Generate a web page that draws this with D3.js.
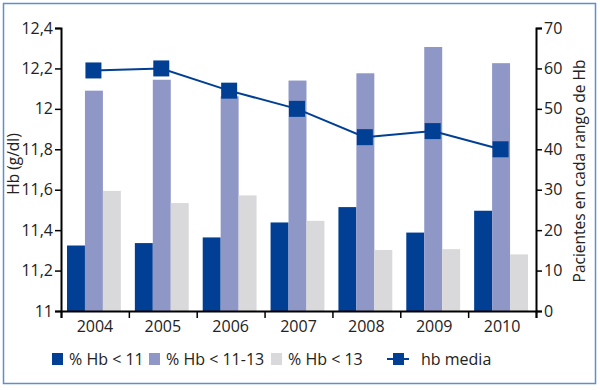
<!DOCTYPE html>
<html>
<head>
<meta charset="utf-8">
<script src="https://cdn.jsdelivr.net/npm/d3@7"></script>
<style>
  body { margin: 0; background: #fff; }
  text { font-family: "Open Sans", "Noto Sans", sans-serif; fill: #222; }
</style>
</head>
<body>
<div id="container"></div>
<script>
const width = 600;
const height = 390;

// data
const years = ['2004', '2005', '2006', '2007', '2008', '2009', '2010'];
const seriesNames = ['% Hb < 11', '% Hb < 11-13', '% Hb < 13'];
const hbLow = [16.2, 16.8, 18.2, 21.9, 25.7, 19.4, 24.8];
const hbMid = [54.5, 57.2, 53.1, 57.0, 58.8, 65.3, 61.3];
const hbHigh = [29.7, 26.7, 28.6, 22.3, 15.1, 15.3, 14.0];
const hbMedia = [12.19, 12.2, 12.09, 12.0, 11.86, 11.89, 11.8];
const leftTicks = [11, 11.2, 11.4, 11.6, 11.8, 12, 12.2, 12.4];
const rightTicks = [0, 10, 20, 30, 40, 50, 60, 70];

const colors = ['#003f93', '#8f97c7', '#d9d9db'];
const lineColor = '#003f93';

const margin = { top: 28, right: 64, bottom: 79, left: 61 };
const plotW = width - margin.left - margin.right;
const plotH = height - margin.top - margin.bottom;

const svg = d3.select('#container').append('svg')
    .attr('width', width)
    .attr('height', height);

// outer frame
svg.append('rect')
    .attr('x', 3.5).attr('y', 3.5)
    .attr('width', 592).attr('height', 380)
    .attr('fill', 'none')
    .attr('stroke', '#5d8fcf')
    .attr('stroke-width', 1.5);

const g = svg.append('g').attr('transform', `translate(${margin.left},${margin.top})`);

const x = d3.scaleBand().domain(years).range([0, plotW]).padding(0);
const x1 = d3.scaleBand().domain(seriesNames).range([6, x.bandwidth() - 8]);
const yLeft = d3.scaleLinear().domain([11, 12.4]).range([plotH, 0]);
const yRight = d3.scaleLinear().domain([0, 70]).range([plotH, 0]);

const locale = d3.formatLocale({ decimal: ',', thousands: '.', grouping: [3], currency: ['', '€'] });
const fmt = locale.format('~f');

const rows = years.map((y, i) => ({ year: y, vals: [hbLow[i], hbMid[i], hbHigh[i]] }));

// bars
const groups = g.selectAll('.grp')
    .data(rows)
    .join('g')
    .attr('class', 'grp')
    .attr('transform', d => `translate(${x(d.year)},0)`);

groups.selectAll('rect')
    .data(d => d.vals.map((v, k) => ({ name: seriesNames[k], v, k })))
    .join('rect')
    .attr('x', d => x1(d.name))
    .attr('width', x1.bandwidth())
    .attr('y', d => yRight(d.v))
    .attr('height', d => plotH - yRight(d.v))
    .attr('fill', d => colors[d.k]);

// line + markers
const cx = i => x(years[i]) + x.bandwidth() / 2 - 1.5;
const line = d3.line()
    .x((d, i) => cx(i))
    .y(d => yLeft(d));

g.append('path')
    .datum(hbMedia)
    .attr('d', line)
    .attr('fill', 'none')
    .attr('stroke', lineColor)
    .attr('stroke-width', 2);

g.selectAll('.mk')
    .data(hbMedia)
    .join('rect')
    .attr('class', 'mk')
    .attr('x', (d, i) => cx(i) - 8)
    .attr('y', d => yLeft(d) - 8)
    .attr('width', 16)
    .attr('height', 16)
    .attr('fill', lineColor);

// axes
const axisLeft = g.append('g')
    .call(d3.axisLeft(yLeft).tickValues(leftTicks).tickSize(6).tickPadding(2).tickFormat(fmt));
const axisRight = g.append('g')
    .attr('transform', `translate(${plotW},0)`)
    .call(d3.axisRight(yRight).tickValues(rightTicks).tickSize(6).tickPadding(2));

const bx = d3.scaleLinear().domain([0, years.length]).range([0, plotW]);
const axisBottomTicks = g.append('g')
    .attr('transform', `translate(0,${plotH})`)
    .call(d3.axisBottom(bx).ticks(years.length).tickSize(7).tickFormat(''));
const axisBottomLabels = g.append('g')
    .attr('transform', `translate(0,${plotH})`)
    .call(d3.axisBottom(x).tickSize(0).tickPadding(10));
axisBottomLabels.select('.domain').remove();

[axisLeft, axisRight, axisBottomTicks].forEach(a => {
    a.select('.domain').attr('stroke', '#000').attr('stroke-width', 2);
    a.selectAll('.tick line').attr('stroke', '#000').attr('stroke-width', 1.5);
});
[axisLeft, axisRight, axisBottomLabels].forEach(a => {
    a.selectAll('text').attr('font-size', 16).attr('fill', '#222')
        .style('font-family', '"Open Sans", "Noto Sans", sans-serif');
});

// axis titles
svg.append('text')
    .attr('transform', 'translate(19,164) rotate(-90)')
    .attr('text-anchor', 'middle')
    .attr('font-size', 15.5)
    .text('Hb (g/dl)');
svg.append('text')
    .attr('transform', 'translate(585,171) rotate(-90)')
    .attr('text-anchor', 'middle')
    .attr('font-size', 15.5)
    .text('Pacientes en cada rango de Hb');

// legend
const legendX = [52, 149, 271];
const legend = svg.append('g');
seriesNames.forEach((name, k) => {
    legend.append('rect')
        .attr('x', legendX[k]).attr('y', 353)
        .attr('width', 11).attr('height', 12)
        .attr('fill', colors[k]);
    legend.append('text')
        .attr('x', legendX[k] + 17).attr('y', 365)
        .attr('font-size', 16)
        .text(name);
});
legend.append('line')
    .attr('x1', 387).attr('x2', 409).attr('y1', 359).attr('y2', 359)
    .attr('stroke', lineColor).attr('stroke-width', 2);
legend.append('rect')
    .attr('x', 393).attr('y', 353).attr('width', 11).attr('height', 12)
    .attr('fill', lineColor);
legend.append('text')
    .attr('x', 421).attr('y', 365)
    .attr('font-size', 16)
    .text('hb media');
</script>
</body>
</html>
